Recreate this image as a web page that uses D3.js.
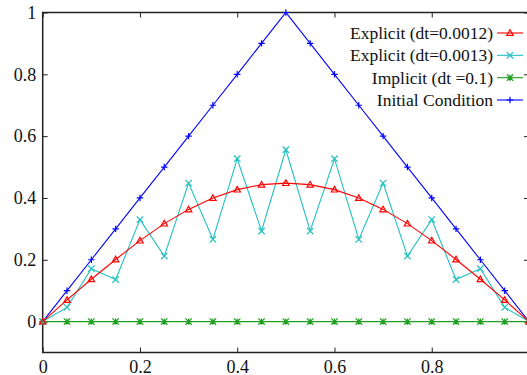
<!DOCTYPE html>
<html>
<head>
<meta charset="utf-8">
<script src="https://cdnjs.cloudflare.com/ajax/libs/d3/7.8.5/d3.min.js"></script>
<style>
  body { margin: 0; background: #fff; }
  svg { display: block; font-family: "Liberation Serif", "DejaVu Serif", serif; }
  svg text { font-family: "Liberation Serif", "DejaVu Serif", serif; }
</style>
</head>
<body>
<svg width="527" height="375"></svg>
<script>
var xs = [0, 0.05, 0.1, 0.15, 0.2, 0.25, 0.3, 0.35, 0.4, 0.45, 0.5,
          0.55, 0.6, 0.65, 0.7, 0.75, 0.8, 0.85, 0.9, 0.95, 1];

var explicit12 = [0, 0.07, 0.137, 0.201, 0.262, 0.317, 0.363, 0.4, 0.427, 0.443, 0.448,
                  0.443, 0.427, 0.4, 0.363, 0.317, 0.262, 0.201, 0.137, 0.07, 0];
var explicit13 = [0, 0.046, 0.171, 0.136, 0.33, 0.212, 0.448, 0.266, 0.527, 0.293, 0.556,
                  0.293, 0.527, 0.266, 0.448, 0.212, 0.33, 0.136, 0.171, 0.046, 0];
var implicit = [0, 0, 0, 0, 0, 0, 0, 0, 0, 0, 0,
                0, 0, 0, 0, 0, 0, 0, 0, 0, 0];
var initial = [0, 0.1, 0.2, 0.3, 0.4, 0.5, 0.6, 0.7, 0.8, 0.9, 1,
               0.9, 0.8, 0.7, 0.6, 0.5, 0.4, 0.3, 0.2, 0.1, 0];

var xTicks = [0, 0.2, 0.4, 0.6, 0.8];
var yTicks = [0, 0.2, 0.4, 0.6, 0.8, 1];

var series = [
  {name: "Explicit (dt=0.0012)", values: explicit12, color: "#ff0000", marker: "triangle"},
  {name: "Explicit (dt=0.0013)", values: explicit13, color: "#22c0c0", marker: "cross"},
  {name: "Implicit (dt =0.1)", values: implicit, color: "#20a020", marker: "star"},
  {name: "Initial Condition", values: initial, color: "#0000ff", marker: "plus"}
];

var margin = {left: 42.7, right: -2, top: 12.5, bottom: 22.5};
var width = 527, height = 375;

var x = d3.scaleLinear().domain([0, 1]).range([margin.left, width - margin.right]);
var y = d3.scaleLinear().domain([-0.1, 1]).range([height - margin.bottom, margin.top]);

var svg = d3.select("svg");

// frame
svg.append("rect")
  .attr("x", x(0)).attr("y", y(1))
  .attr("width", x(1) - x(0)).attr("height", y(-0.1) - y(1))
  .attr("fill", "none").attr("stroke", "#222").attr("stroke-width", 1.5);

var tl = 5;
var fs = "18px";

// ticks point inward on all four sides
var axB = svg.append("g").attr("transform", "translate(0," + y(-0.1) + ")")
  .call(d3.axisBottom(x).tickValues(xTicks).tickSize(-tl).tickPadding(7.5).tickFormat(d3.format("")));
var axT = svg.append("g").attr("transform", "translate(0," + y(1) + ")")
  .call(d3.axisTop(x).tickValues(xTicks).tickSize(-tl).tickFormat(""));
var axL = svg.append("g").attr("transform", "translate(" + x(0) + ",0)")
  .call(d3.axisLeft(y).tickValues(yTicks).tickSize(-tl).tickPadding(6.5).tickFormat(d3.format("")));
var axR = svg.append("g").attr("transform", "translate(" + x(1) + ",0)")
  .call(d3.axisRight(y).tickValues(yTicks).tickSize(-tl).tickFormat(""));

[axB, axT, axL, axR].forEach(function (a) {
  a.attr("font-family", null).attr("font-size", null);
  a.select(".domain").remove();
  a.selectAll(".tick line").attr("stroke", "#222").attr("stroke-width", 1);
  a.selectAll(".tick text")
    .style("font-size", fs).attr("fill", "#111");
});

var line = d3.line()
  .x(function (d, i) { return x(xs[i]); })
  .y(function (d) { return y(d); });

function drawMarker(g, type, color, cx, cy) {
  var s = 3.2;
  var path;
  if (type === "triangle") {
    path = "M" + cx + "," + (cy - s) + "L" + (cx + s) + "," + (cy + s * 0.75) + "L" + (cx - s) + "," + (cy + s * 0.75) + "Z";
  } else if (type === "cross") {
    path = "M" + (cx - s) + "," + (cy - s) + "L" + (cx + s) + "," + (cy + s) +
           "M" + (cx - s) + "," + (cy + s) + "L" + (cx + s) + "," + (cy - s);
  } else if (type === "star") {
    path = "M" + (cx - s) + "," + (cy - s) + "L" + (cx + s) + "," + (cy + s) +
           "M" + (cx - s) + "," + (cy + s) + "L" + (cx + s) + "," + (cy - s) +
           "M" + (cx - s) + "," + cy + "L" + (cx + s) + "," + cy +
           "M" + cx + "," + (cy - s) + "L" + cx + "," + (cy + s);
  } else {
    path = "M" + (cx - s) + "," + cy + "L" + (cx + s) + "," + cy +
           "M" + cx + "," + (cy - s) + "L" + cx + "," + (cy + s);
  }
  g.append("path").attr("d", path).attr("fill", "none")
    .attr("stroke", color).attr("stroke-width", 1.2);
}

var plot = svg.append("g");
series.slice().reverse().forEach(function (s) {
  var g = plot.append("g");
  g.append("path").datum(s.values)
    .attr("d", line).attr("fill", "none")
    .attr("stroke", s.color).attr("stroke-width", 1.1);
  s.values.forEach(function (v, i) {
    drawMarker(g, s.marker, s.color, x(xs[i]), y(v));
  });
});

// legend
var legendY = [33, 55.3, 77.7, 100];
series.forEach(function (s, i) {
  var g = svg.append("g");
  g.append("text")
    .attr("x", 493).attr("y", legendY[i])
    .attr("dy", "0.35em")
    .attr("text-anchor", "end")
    .style("font-size", "17.5px").attr("fill", "#111")
    .text(s.name);
  g.append("line")
    .attr("x1", 497).attr("x2", 523)
    .attr("y1", legendY[i]).attr("y2", legendY[i])
    .attr("stroke", s.color).attr("stroke-width", 1.1);
  drawMarker(g, s.marker, s.color, 510, legendY[i]);
});
</script>
</body>
</html>
